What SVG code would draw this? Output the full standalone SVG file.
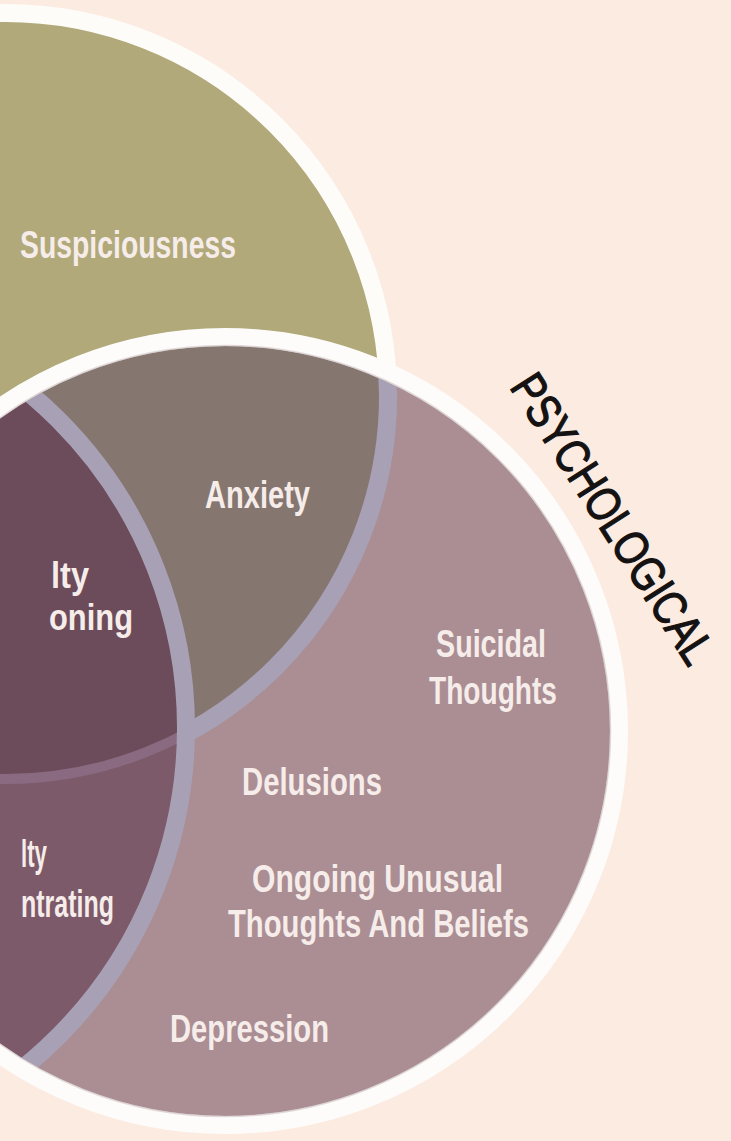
<svg xmlns="http://www.w3.org/2000/svg" width="731" height="1141" viewBox="0 0 731 1141">
<style>
.lbl{font-family:"Liberation Sans","Arial",sans-serif;font-weight:700;font-size:38px;fill:#f6ece9}
.sm{font-size:36px}
.title{font-family:"Liberation Sans","Arial",sans-serif;font-weight:400;font-size:48px;fill:#141212;stroke:#141212;stroke-width:1.3}
</style>
<defs>
<clipPath id="lowerIn"><circle cx="225" cy="731" r="385"/></clipPath>
<clipPath id="leftIn"><circle cx="-250" cy="728" r="436"/></clipPath>
<mask id="notLeft"><rect width="731" height="1141" fill="#fff"/><circle cx="-250" cy="728" r="436" fill="#000"/></mask>
</defs>
<rect width="731" height="1141" fill="#fcebe1"/>
<g id="top-circle">
<circle cx="5" cy="396" r="383" fill="#b1a979" stroke="#fdfcf8" stroke-width="18"/>
</g>
<g id="lower-circle">
<circle cx="225" cy="731" r="394" fill="#aa8e93"/>
<g clip-path="url(#lowerIn)">
<circle cx="5" cy="396" r="383" fill="#857670"/>
<circle cx="-250" cy="728" r="436" fill="#7c5a6a"/>
<circle cx="5" cy="396" r="383" fill="#6c4b5a" clip-path="url(#leftIn)"/>
<circle cx="5" cy="396" r="383" fill="none" stroke="#8a6a80" stroke-width="10" clip-path="url(#leftIn)"/>
<circle cx="5" cy="396" r="383" fill="none" stroke="#a8a1b6" stroke-width="18" mask="url(#notLeft)"/>
<circle cx="-250" cy="728" r="436" fill="none" stroke="#a8a1b6" stroke-width="18"/>
</g>
<circle cx="225" cy="731" r="394" fill="none" stroke="#fdfcfa" stroke-width="18"/>
<circle cx="225" cy="731" r="385.5" fill="none" stroke="#cdbfc2" stroke-width="1.5" opacity="0.6"/>
</g>
<g id="label-suspiciousness"><text class="lbl" x="20" y="258" textLength="216" lengthAdjust="spacingAndGlyphs">Suspiciousness</text></g>
<g id="label-anxiety"><text class="lbl" x="205" y="508" textLength="105" lengthAdjust="spacingAndGlyphs">Anxiety</text></g>
<g id="label-reasoning"><text class="lbl sm" x="51" y="588" textLength="38" lengthAdjust="spacingAndGlyphs">lty</text><text class="lbl sm" x="49" y="630" textLength="84" lengthAdjust="spacingAndGlyphs">oning</text></g>
<g id="label-suicidal"><text class="lbl" x="436" y="657" textLength="110" lengthAdjust="spacingAndGlyphs">Suicidal</text><text class="lbl" x="429" y="704" textLength="128" lengthAdjust="spacingAndGlyphs">Thoughts</text></g>
<g id="label-delusions"><text class="lbl" x="242" y="795" textLength="140" lengthAdjust="spacingAndGlyphs">Delusions</text></g>
<g id="label-concentrating"><text class="lbl" x="21" y="867" textLength="26" lengthAdjust="spacingAndGlyphs">lty</text><text class="lbl" x="21" y="917" textLength="93" lengthAdjust="spacingAndGlyphs">ntrating</text></g>
<g id="label-unusual"><text class="lbl" x="252" y="892" textLength="251" lengthAdjust="spacingAndGlyphs">Ongoing Unusual</text><text class="lbl" x="228" y="937" textLength="301" lengthAdjust="spacingAndGlyphs">Thoughts And Beliefs</text></g>
<g id="label-depression"><text class="lbl" x="170" y="1042" textLength="159" lengthAdjust="spacingAndGlyphs">Depression</text></g>
<g id="title-psychological"><text class="title" transform="translate(509,387) rotate(57.4) scale(0.813,1)" x="0" y="0">PSYCHOLOGICAL</text></g>
<g id="connectors"></g>
</svg>
